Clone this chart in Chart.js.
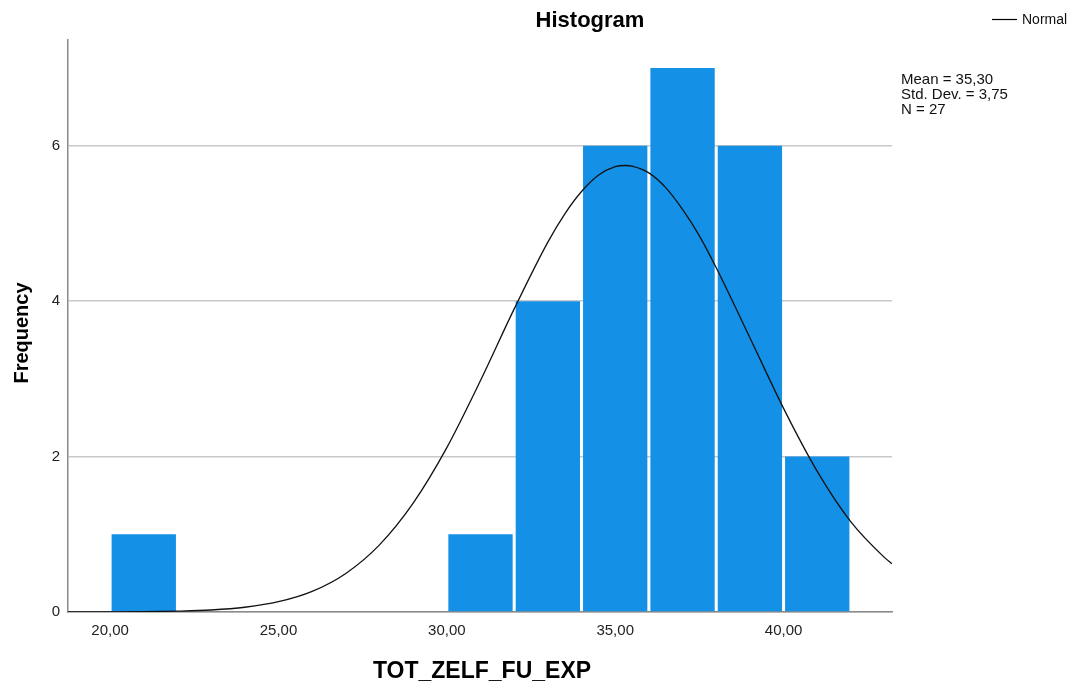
<!DOCTYPE html>
<html>
<head>
<meta charset="utf-8">
<script src="https://cdn.jsdelivr.net/npm/chart.js@4.4.1/dist/chart.umd.min.js"></script>
<style>
  html, body { margin: 0; padding: 0; background: #fff; }
  #wrap { width: 1074px; height: 688px; }
</style>
</head>
<body>
<div id="wrap"><canvas id="histograma"></canvas></div>
<script>
// === Datos del histograma ===
const binStarts = [20, 30, 32, 34, 36, 38, 40];
const binWidth = 2;
const frequencies = [1, 1, 4, 6, 7, 6, 2];

// curva normal (leída sobre el eje x, más densa cerca del máximo)
const curveX = [18.75, 19, 20, 21, 22, 23, 24, 25, 26, 27, 28, 29, 30, 31, 32, 33, 33.5, 34, 34.5, 35, 35.3, 35.5, 36, 36.5, 37, 37.5, 38, 39, 40, 41, 42, 43, 43.22];
const curveY = [0.0003, 0.0005, 0.0014, 0.004, 0.011, 0.026, 0.061, 0.132, 0.265, 0.496, 0.864, 1.401, 2.115, 2.978, 3.90, 4.76, 5.12, 5.41, 5.62, 5.73, 5.745, 5.737, 5.65, 5.46, 5.18, 4.84, 4.43, 3.53, 2.62, 1.81, 1.16, 0.70, 0.62];

const xTicks = [20, 25, 30, 35, 40];
const yTicks = [0, 2, 4, 6];
const statsLines = ['Mean = 35,30', 'Std. Dev. = 3,75', 'N = 27'];

const barPoints = binStarts.map((s, i) => ({ x: s + binWidth / 2, y: frequencies[i] }));
const curvePoints = curveX.map((x, i) => ({ x: x, y: curveY[i] }));

const FONT = '"Liberation Sans", Arial, sans-serif';

// textos: título, ejes, leyenda y estadísticos
const textosPlugin = {
  id: 'textos',
  afterDraw(chart) {
    const ctx = chart.ctx;
    ctx.save();
    ctx.fillStyle = '#000';
    ctx.textBaseline = 'middle';

    ctx.font = 'bold 22px ' + FONT;
    ctx.textAlign = 'center';
    ctx.fillText('Histogram', 590, 21);

    ctx.font = 'bold 23px ' + FONT;
    ctx.fillText('TOT_ZELF_FU_EXP', 482, 672);

    ctx.save();
    ctx.translate(22, 333);
    ctx.rotate(-Math.PI / 2);
    ctx.font = 'bold 20px ' + FONT;
    ctx.fillText('Frequency', 0, 0);
    ctx.restore();

    // leyenda
    ctx.strokeStyle = '#000';
    ctx.lineWidth = 1.2;
    ctx.beginPath();
    ctx.moveTo(992, 19.5);
    ctx.lineTo(1017, 19.5);
    ctx.stroke();
    ctx.textAlign = 'left';
    ctx.font = '14px ' + FONT;
    ctx.fillStyle = '#111';
    ctx.fillText('Normal', 1022, 20);

    ctx.font = '15px ' + FONT;
    statsLines.forEach((t, i) => ctx.fillText(t, 901, 79.5 + i * 15));
    ctx.restore();
  }
};

new Chart(document.getElementById('histograma'), {
  type: 'bar',
  data: {
    datasets: [
      {
        type: 'line',
        label: 'Normal',
        data: curvePoints,
        borderColor: '#111',
        borderWidth: 1.3,
        pointRadius: 0,
        fill: false,
        cubicInterpolationMode: 'monotone',
        order: 0
      },
      {
        type: 'bar',
        label: 'Frequency',
        data: barPoints,
        backgroundColor: '#1490E6',
        borderWidth: 0,
        barPercentage: 0.955,
        categoryPercentage: 1,
        order: 1
      }
    ]
  },
  options: {
    responsive: true,
    maintainAspectRatio: false,
    animation: false,
    layout: { padding: { top: 40, right: 182, left: 0, bottom: 0 } },
    plugins: {
      legend: { display: false },
      tooltip: { enabled: false }
    },
    scales: {
      x: {
        type: 'linear',
        min: 18.75,
        max: 43.22,
        offset: false,
        afterBuildTicks: scale => { scale.ticks = xTicks.map(v => ({ value: v })); },
        afterFit: scale => { scale.height = 76; },
        ticks: {
          callback: v => v.toFixed(2).replace('.', ','),
          color: '#222',
          font: { size: 15, family: FONT },
          padding: 10,
          maxRotation: 0
        },
        grid: { display: false, drawTicks: false },
        border: { color: '#8a8a8a', width: 1.5 }
      },
      y: {
        min: 0,
        max: 7.36,
        afterBuildTicks: scale => { scale.ticks = yTicks.map(v => ({ value: v })); },
        afterFit: scale => { scale.width = 68; },
        ticks: {
          color: '#222',
          font: { size: 15, family: FONT },
          padding: 8
        },
        grid: { color: '#c8c8c8', lineWidth: 1.5, drawTicks: false },
        border: { color: '#8a8a8a', width: 1.5 }
      }
    }
  },
  plugins: [textosPlugin]
});
</script>
</body>
</html>
